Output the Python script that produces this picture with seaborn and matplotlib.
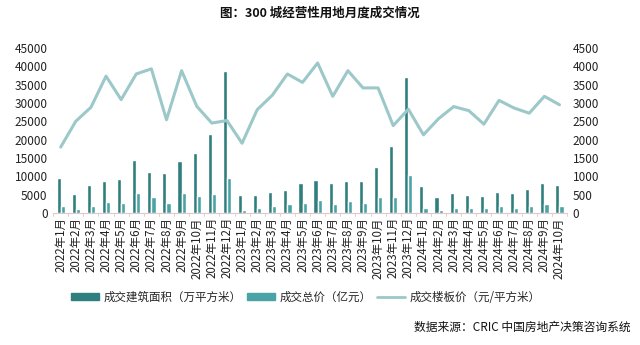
import matplotlib
matplotlib.use("Agg")
import matplotlib.pyplot as plt
import seaborn as sns
import pandas as pd
import numpy as np
from matplotlib.patches import Patch
from matplotlib.lines import Line2D

sns.set_theme(style="white")
plt.rcParams['font.family'] = ['Noto Sans CJK SC', 'DejaVu Sans']

months = [f"2022年{m}月" for m in range(1, 13)] + [f"2023年{m}月" for m in range(1, 13)] + [f"2024年{m}月" for m in range(1, 11)]
area = [9600, 5200, 7500, 8750, 9300, 14500, 11200, 10900, 14200, 16400, 21500, 38800,
        4900, 4900, 5700, 6300, 8200, 9000, 8200, 8750, 8750, 12400, 18300, 37000,
        7200, 4200, 5300, 5000, 4700, 5700, 5500, 6600, 8200, 7500]
total = [1750, 1100, 2000, 3000, 2800, 5500, 4400, 2700, 5500, 4650, 5200, 9650,
         800, 1400, 1750, 2300, 2750, 3550, 2550, 3300, 2750, 4200, 4200, 10200,
         1450, 800, 1450, 1450, 1200, 1750, 1450, 1750, 2550, 2000]
price = [1795, 2500, 2880, 3730, 3090, 3790, 3930, 2540, 3880, 2910, 2450, 2520,
         1900, 2815, 3210, 3790, 3560, 4090, 3180, 3880, 3410, 3410, 2380, 2830,
         2130, 2570, 2900, 2790, 2420, 3070, 2860, 2720, 3180, 2950]

c_area = "#2F7F7E"
c_total = "#4AA3A6"
c_line = "#9CC8C9"

df = pd.DataFrame({"month": months * 2,
                   "value": area + total,
                   "series": ["成交建筑面积（万平方米）"] * len(months) + ["成交总价（亿元）"] * len(months)})

fig = plt.figure(figsize=(6.4, 3.45), dpi=100)
ax = fig.add_axes([0.083, 0.383, 0.803, 0.478])
sns.barplot(data=df, x="month", y="value", hue="series", palette=[c_area, c_total],
            width=0.55, ax=ax, legend=False, saturation=1)
ax.set_ylim(0, 45000)
ax.set_yticks(np.arange(0, 45001, 5000))
ax.set_xlim(-0.5, len(months) - 0.5)
ax.set_xlabel("")
ax.set_ylabel("")
ax.tick_params(axis="y", labelsize=8.5, length=0, pad=4, colors="#222222")
ax.tick_params(axis="x", labelsize=8.3, rotation=90, length=0, pad=3, colors="#222222")
for s in ["top", "left", "right"]:
    ax.spines[s].set_visible(False)
ax.spines["bottom"].set_color("#E0C8C8")
ax.spines["bottom"].set_linewidth(0.8)
for i in range(len(months) + 1):
    ax.plot([i - 0.5, i - 0.5], [0, -900], color="#E0C8C8", lw=0.6, clip_on=False)

ax2 = ax.twinx()
sns.lineplot(x=np.arange(len(months)), y=price, ax=ax2, color=c_line, lw=2.2, legend=False)
ax2.set_ylim(0, 4500)
ax2.set_yticks(np.arange(0, 4501, 500))
ax2.tick_params(axis="y", labelsize=8.5, length=0, pad=4, colors="#222222")
for s in ["top", "left", "right", "bottom"]:
    ax2.spines[s].set_visible(False)
ax2.set_ylabel("")

fig.text(0.5, 0.962, "图：300 城经营性用地月度成交情况", ha="center", va="center",
         fontsize=9, fontweight="bold", color="#111111")

handles = [Patch(color=c_area), Patch(color=c_total), Line2D([0], [0], color=c_line, lw=2)]
labels = ["成交建筑面积（万平方米）", "成交总价（亿元）", "成交楼板价（元/平方米）"]
fig.legend(handles, labels, loc="center", bbox_to_anchor=(0.478, 0.138), ncol=3, frameon=False,
           fontsize=8.3, handlelength=2.4, handleheight=0.6, columnspacing=0.5, handletextpad=0.4)

fig.text(0.985, 0.05, "数据来源：CRIC 中国房地产决策咨询系统", ha="right", va="center",
         fontsize=8.5, color="#111111")

fig.savefig("out.png", dpi=100)
